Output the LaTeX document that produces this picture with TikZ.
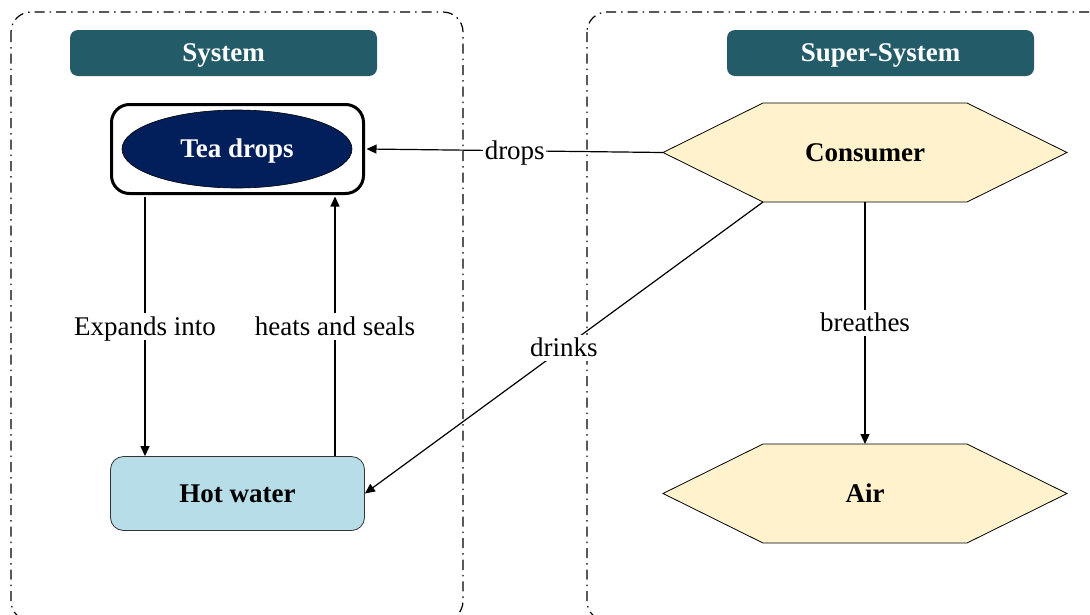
\documentclass[tikz,border=0pt]{standalone}
\usepackage{fontspec}
\setmainfont{Liberation Serif}
\usetikzlibrary{shapes.geometric,arrows.meta,backgrounds}
\definecolor{headteal}{HTML}{235B69}
\definecolor{teanavy}{HTML}{031F5B}
\definecolor{waterblue}{HTML}{B7DDE8}
\definecolor{hexcream}{HTML}{FFF2CC}
\begin{document}
\begin{tikzpicture}[x=1pt,y=-1pt,
  font=\fontsize{27}{32}\selectfont,
  every node/.append style={text height=18pt,text depth=0.5pt},
  frame/.style={line width=1.2pt,rounded corners=20pt,
    dash pattern=on 10pt off 5pt on 1.5pt off 5pt},
  header/.style={fill=headteal,rounded corners=8pt,text=white,font=\fontsize{27}{32}\selectfont\bfseries,
    minimum width=307pt,minimum height=46pt,inner sep=0pt,outer sep=0pt},
  teabox/.style={draw,line width=3pt,rounded corners=18pt,fill=white,
    minimum width=252pt,minimum height=89pt,inner sep=0pt},
  teaell/.style={ellipse,draw=black,line width=0.6pt,fill=teanavy,text=white,
    font=\fontsize{27}{32}\selectfont\bfseries,minimum width=230pt,minimum height=78pt,inner sep=0pt},
  waterbox/.style={draw=black!80,line width=0.8pt,rounded corners=13pt,fill=waterblue,
    font=\fontsize{27}{32}\selectfont\bfseries,minimum width=254pt,minimum height=74pt,inner sep=0pt},
  hexnode/.style={minimum width=404pt,minimum height=99pt,inner sep=0pt,outer sep=0pt,
    font=\fontsize{27}{32}\selectfont\bfseries},
  hexline/.style={draw=black,line width=0.8pt,fill=hexcream,line join=miter},
  arr/.style={line width=1.2pt,-{Triangle[length=10pt,width=9pt]}},
  lbl/.style={fill=white,inner xsep=1.5pt,inner ysep=4pt}]
\useasboundingbox (0,0) rectangle (1090,614);

% dash-dot frames of the two groups
\draw[frame] (11,12) rectangle (463,621);
\draw[frame] (587,12) rectangle (1112,621);

% group headers
\node[header] (sys) at (223.5,53) {System};
\node[header] (sup) at (880.5,53) {Super-System};

% system elements
\node[teabox] (teabox) at (237.5,149) {};
\node[teaell] (tea) at (237,149) {Tea drops};
\node[waterbox] (hot) at (237.5,493.5) {Hot water};

% super-system elements (hexagon outlines drawn behind)
\node[hexnode] (con) at (865,152.5) {Consumer};
\node[hexnode] (air) at (865,493.5) {Air};
\begin{scope}[on background layer]
  \foreach \h in {con,air}
    \draw[hexline] (\h.west) -- ([xshift=100pt]\h.north west) -- ([xshift=-100pt]\h.north east)
      -- (\h.east) -- ([xshift=-100pt]\h.south east) -- ([xshift=100pt]\h.south west) -- cycle;
\end{scope}

% interactions
\draw[arr] (con.west) -- node[lbl] {drops} ([xshift=1.5pt]teabox.east);
\draw[arr] ([xshift=-92.5pt,yshift=-1.5pt]teabox.south) -- node[lbl] {Expands into} ([xshift=-92.5pt]hot.north);
\draw[arr] ([xshift=97.5pt]hot.north) -- node[lbl] {heats and seals} ([xshift=97.5pt,yshift=-1.5pt]teabox.south);
\draw[arr] ([xshift=100pt]con.south west) -- node[lbl] {drinks} (hot.east);
\draw[arr] (con.south) -- node[lbl] {breathes} (air.north);
\end{tikzpicture}
\end{document}
